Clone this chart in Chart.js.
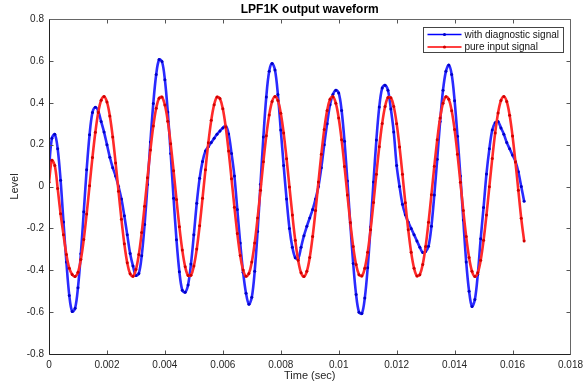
<!DOCTYPE html>
<html>
<head>
<meta charset="utf-8">
<script src="https://cdn.jsdelivr.net/npm/chart.js@4.4.0/dist/chart.umd.min.js"></script>
<style>
html, body { margin: 0; padding: 0; background: #fff; }
</style>
</head>
<body>
<canvas id="wave" width="588" height="387"></canvas>
<script>
// sample step (sec), values every 0.1 ms from t = 0 to 0.0164
var dt = 0.0001;

var withDiag = [
  0.09, 0.23, 0.25, 0.18, 0.03, -0.17, -0.36, -0.52, -0.597, -0.582,
  -0.483, -0.321, -0.121, 0.08, 0.247, 0.353, 0.378, 0.36, 0.31, 0.26,
  0.2, 0.14, 0.09, 0.05, 0.0, -0.06, -0.14, -0.23, -0.32, -0.38,
  -0.425, -0.416, -0.331, -0.182, 0.009, 0.212, 0.397, 0.535, 0.606, 0.597,
  0.51, 0.356, 0.158, -0.056, -0.254, -0.407, -0.495, -0.505, -0.47, -0.37,
  -0.23, -0.08, 0.04, 0.12, 0.17, 0.19, 0.21, 0.23, 0.25, 0.265,
  0.28, 0.289, 0.251, 0.158, 0.05, -0.11, -0.27, -0.41, -0.51, -0.562,
  -0.529, -0.405, -0.215, 0.011, 0.237, 0.428, 0.55, 0.588, 0.556, 0.44,
  0.27, 0.1, -0.06, -0.2, -0.29, -0.34, -0.345, -0.29, -0.235, -0.19,
  -0.15, -0.11, -0.06, 0.0, 0.09, 0.2, 0.3, 0.39, 0.44, 0.46,
  0.447, 0.363, 0.216, 0.026, -0.179, -0.368, -0.516, -0.6, -0.607, -0.533,
  -0.388, -0.193, 0.021, 0.222, 0.38, 0.47, 0.484, 0.46, 0.37, 0.26,
  0.1, 0.0, -0.085, -0.135, -0.17, -0.2, -0.23, -0.26, -0.29, -0.315,
  -0.31, -0.285, -0.19, -0.04, 0.13, 0.31, 0.46, 0.55, 0.58, 0.535,
  0.41, 0.24, 0.05, -0.16, -0.36, -0.5, -0.573, -0.54, -0.42, -0.25,
  -0.1, 0.06, 0.18, 0.27, 0.305, 0.31, 0.28, 0.25, 0.21, 0.18,
  0.15, 0.12, 0.07, 0.0, -0.07
];

var pureInput = [
  0.02, 0.125, 0.10, -0.01, -0.13, -0.23, -0.325, -0.39, -0.42, -0.43,
  -0.41, -0.349, -0.253, -0.131, 0.004, 0.139, 0.259, 0.354, 0.412, 0.43,
  0.404, 0.337, 0.237, 0.112, -0.023, -0.157, -0.274, -0.364, -0.417, -0.429,
  -0.397, -0.325, -0.22, -0.094, 0.042, 0.174, 0.289, 0.374, 0.422, 0.427,
  0.389, 0.312, 0.204, 0.075, -0.062, -0.192, -0.303, -0.383, -0.425, -0.424,
  -0.38, -0.299, -0.187, -0.056, 0.08, 0.209, 0.316, 0.391, 0.428, 0.42,
  0.371, 0.284, 0.169, 0.037, -0.099, -0.225, -0.329, -0.399, -0.429, -0.416,
  -0.361, -0.27, -0.151, -0.018, 0.118, 0.242, 0.341, 0.406, 0.43, 0.411,
  0.35, 0.255, 0.133, -0.002, -0.136, -0.257, -0.352, -0.412, -0.43, -0.405,
  -0.339, -0.239, -0.115, 0.021, 0.154, 0.272, 0.363, 0.417, 0.429, 0.398,
  0.327, 0.223, 0.096, -0.04, -0.172, -0.287, -0.373, -0.421, -0.427, -0.39,
  -0.314, -0.206, -0.077, 0.059, 0.19, 0.301, 0.382, 0.425, 0.424, 0.382,
  0.3, 0.189, 0.058, -0.078, -0.207, -0.314, -0.39, -0.427, -0.421, -0.372,
  -0.286, -0.171, -0.039, 0.097, 0.223, 0.327, 0.398, 0.429, 0.417, 0.362,
  0.272, 0.154, 0.02, -0.115, -0.239, -0.339, -0.405, -0.43, -0.412, -0.352,
  -0.257, -0.136, -0.001, 0.134, 0.255, 0.351, 0.411, 0.43, 0.406, 0.34,
  0.241, 0.117, -0.018, -0.152, -0.26
];

var seriesNames = ['with diagnostic signal', 'pure input signal'];
var xTickLabels = ['0', '0.002', '0.004', '0.006', '0.008', '0.01', '0.012', '0.014', '0.016', '0.018'];
var yTickLabels = ['-0.8', '-0.6', '-0.4', '-0.2', '0', '0.2', '0.4', '0.6', '0.8'];

function toPoints(arr) {
  return arr.map(function (v, i) { return { x: i * dt, y: v }; });
}

var font = "'Liberation Sans', Arial, sans-serif";

// box, inward tick marks, title and legend, matlab style
var framePlugin = {
  id: 'frame',
  afterDraw: function (chart) {
    var c = chart.ctx, a = chart.chartArea;
    var xs = chart.scales.x, ys = chart.scales.y;
    var L = Math.round(a.left) + 0.5, R = Math.round(a.right) + 0.5;
    var T = Math.round(a.top) + 0.5, B = Math.round(a.bottom) + 0.5;
    c.save();
    c.lineWidth = 1;
    c.strokeStyle = '#555';
    xs.ticks.forEach(function (t) {
      var px = Math.round(xs.getPixelForValue(t.value)) + 0.5;
      c.beginPath();
      c.moveTo(px, B); c.lineTo(px, B - 4);
      c.moveTo(px, T); c.lineTo(px, T + 4);
      c.stroke();
    });
    ys.ticks.forEach(function (t) {
      var py = Math.round(ys.getPixelForValue(t.value)) + 0.5;
      c.beginPath();
      c.moveTo(L, py); c.lineTo(L + 4, py);
      c.moveTo(R, py); c.lineTo(R - 4, py);
      c.stroke();
    });
    c.strokeStyle = '#666';
    c.beginPath();
    c.moveTo(L, T); c.lineTo(R, T); c.lineTo(R, B);
    c.stroke();
    c.strokeStyle = '#222';
    c.beginPath();
    c.moveTo(L, T); c.lineTo(L, B); c.lineTo(R, B);
    c.stroke();

    // title
    c.fillStyle = '#000';
    c.font = 'bold 12px ' + font;
    c.textAlign = 'center';
    c.textBaseline = 'middle';
    c.fillText('LPF1K output waveform', (a.left + a.right) / 2, 10);

    // legend
    var bx = 423.5, by = 27.5, bw = 140, bh = 25;
    c.fillStyle = '#fff';
    c.fillRect(bx, by, bw, bh);
    c.strokeStyle = '#444';
    c.strokeRect(bx, by, bw, bh);
    var cols = ['#0000ff', '#ff0000'];
    var dots = ['#0000c8', '#d00000'];
    c.font = '10px ' + font;
    c.textAlign = 'left';
    seriesNames.forEach(function (name, i) {
      var y = by + 7 + i * 12.5;
      c.strokeStyle = cols[i];
      c.lineWidth = 1.5;
      c.beginPath();
      c.moveTo(bx + 4, y); c.lineTo(bx + 38, y);
      c.stroke();
      c.fillStyle = dots[i];
      c.beginPath();
      c.arc(bx + 21, y, 1.6, 0, Math.PI * 2);
      c.fill();
      c.fillStyle = '#111';
      c.fillText(name, bx + 41, y + 0.5);
    });
    c.restore();
  }
};

new Chart(document.getElementById('wave').getContext('2d'), {
  type: 'line',
  data: {
    datasets: [{
      label: seriesNames[0],
      data: toPoints(withDiag),
      borderColor: '#2a2aff',
      backgroundColor: '#0000c8',
      borderWidth: 2.6,
      pointRadius: 1.5,
      pointBorderWidth: 0,
      tension: 0.35,
      order: 1
    }, {
      label: seriesNames[1],
      data: toPoints(pureInput),
      borderColor: '#ff2a2a',
      backgroundColor: '#d00000',
      borderWidth: 2.6,
      pointRadius: 1.5,
      pointBorderWidth: 0,
      tension: 0.35,
      order: 0
    }]
  },
  options: {
    responsive: false,
    animation: false,
    layout: { padding: { top: 19, right: 14, left: 0, bottom: 0 } },
    plugins: { legend: { display: false }, tooltip: { enabled: false }, title: { display: false } },
    scales: {
      x: {
        type: 'linear',
        min: 0, max: 0.018,
        grid: { display: false, drawTicks: false },
        border: { display: false },
        afterFit: function (s) { s.height = 33; },
        ticks: {
          stepSize: 0.002, padding: 5, color: '#262626',
          font: { family: font, size: 10 },
          maxRotation: 0,
          callback: function (v, i) { return xTickLabels[i]; }
        },
        title: {
          display: true, text: 'Time (sec)', color: '#262626',
          font: { family: font, size: 11 },
          padding: { top: 0, bottom: 4 }
        }
      },
      y: {
        min: -0.8, max: 0.8,
        grid: { display: false, drawTicks: false },
        border: { display: false },
        afterFit: function (s) { s.width = 49; },
        ticks: {
          stepSize: 0.2, padding: 5, color: '#262626',
          font: { family: font, size: 10 },
          callback: function (v, i) { return yTickLabels[i]; }
        },
        title: {
          display: true, text: 'Level', color: '#262626',
          font: { family: font, size: 11 },
          padding: { top: 8, bottom: 0 }
        }
      }
    }
  },
  plugins: [framePlugin]
});
</script>
</body>
</html>
